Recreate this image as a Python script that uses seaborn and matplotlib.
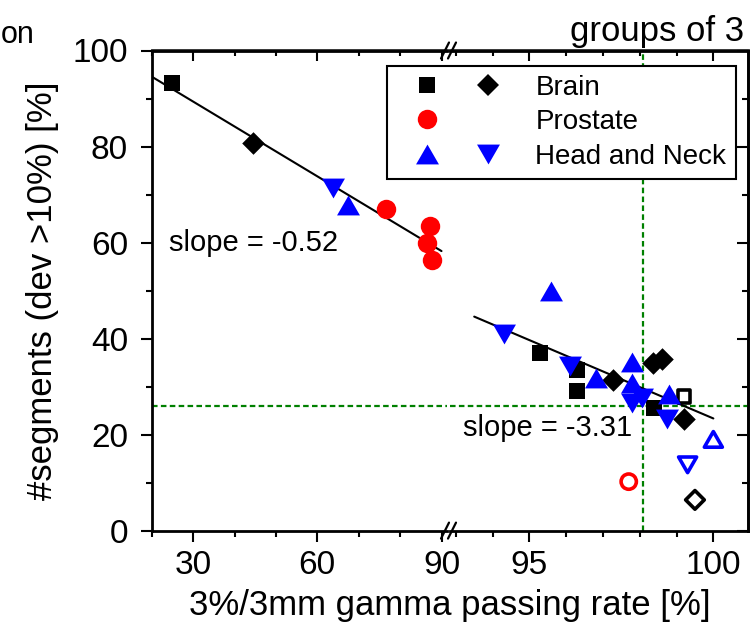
import numpy as np
import pandas as pd
import matplotlib.pyplot as plt
import seaborn as sns
from matplotlib.lines import Line2D
from matplotlib.path import Path
from matplotlib.legend_handler import HandlerTuple
from matplotlib.ticker import MultipleLocator

# 3%/3mm gamma passing rate [%] vs #segments with dev >10% [%]
brain_sq_x = [24.8, 95.3, 96.3, 96.3, 98.4]
brain_sq_y = [93.3, 36.9, 33.4, 29.1, 25.5]
brain_dia_x = [44.5, 97.26, 98.35, 98.6, 99.2]
brain_dia_y = [80.8, 31.3, 34.9, 35.8, 23.2]
prostate_x = [76.6, 87.2, 86.4, 87.6]
prostate_y = [67.0, 63.5, 59.9, 56.4]
hn_up_x = [67.5, 95.6, 96.8, 97.8, 97.8, 98.8]
hn_up_y = [67.9, 49.9, 31.7, 35.2, 30.8, 28.4]
hn_down_x = [63.7, 94.3, 96.1, 97.8, 98.05, 98.75]
hn_down_y = [71.3, 41.0, 34.2, 26.5, 27.7, 23.2]

# open symbols, left out of the fits
out_kind = ["square", "circle", "up", "down", "diamond"]
out_x = [99.2, 97.7, 100.0, 99.3, 99.5]
out_y = [27.9, 10.2, 19.0, 13.7, 6.4]

thresh_x = 98.1
thresh_y = 26.0
fit_ranges = [(20, 90), (93.5, 100)]
slope_labels = ["slope = -0.52", "slope = -3.31"]
legend_labels = ["Brain", "Prostate", "Head and Neck"]

rows = []
for kind, xs, ys in [("square", brain_sq_x, brain_sq_y), ("diamond", brain_dia_x, brain_dia_y),
                     ("circle", prostate_x, prostate_y), ("up", hn_up_x, hn_up_y),
                     ("down", hn_down_x, hn_down_y)]:
    for x, y in zip(xs, ys):
        rows.append({"kind": kind, "x": x, "y": y, "filled": True})
for kind, x, y in zip(out_kind, out_x, out_y):
    rows.append({"kind": kind, "x": x, "y": y, "filled": False})
df = pd.DataFrame(rows)
df["panel"] = np.where(df["x"] < 92, 0, 1)

tri_up = Path([(0, 0.433), (-0.5, -0.433), (0.5, -0.433), (0, 0.433)],
              [Path.MOVETO, Path.LINETO, Path.LINETO, Path.CLOSEPOLY])
tri_down = Path([(0, -0.433), (-0.5, 0.433), (0.5, 0.433), (0, -0.433)],
                [Path.MOVETO, Path.LINETO, Path.LINETO, Path.CLOSEPOLY])
colors = {"square": "black", "diamond": "black", "circle": "#ff0000", "up": "#0000ff", "down": "#0000ff"}
markers = {"square": "s", "diamond": "D", "circle": "o", "up": tri_up, "down": tri_down}
ms_full = {"square": 12, "diamond": 11.5, "circle": 14, "up": 16.5, "down": 16.5}
ms_open = {"square": 9, "diamond": 9.5, "circle": 11, "up": 13, "down": 13}

sns.set_style("ticks")
plt.rcParams["font.family"] = ["Liberation Sans", "DejaVu Sans"]
plt.rcParams.update({"text.color": "black", "axes.labelcolor": "black",
                     "xtick.color": "black", "ytick.color": "black"})

W, H = 753, 636
fig = plt.figure(figsize=(7.53, 6.36), dpi=100)
y0, y1 = 530.6, 50.5
ax_l = fig.add_axes([151.7 / W, 1 - y0 / H, 295.6 / W, (y0 - y1) / H])
ax_r = fig.add_axes([450.3 / W, 1 - y0 / H, 298.0 / W, (y0 - y1) / H])
axes = [ax_l, ax_r]
xlims = [(20, 91.4), (92.85, 100.95)]
xmajor = [[30, 60, 90], [95, 100]]
xminor = [10, 1]

for i, ax in enumerate(axes):
    ax.axhline(thresh_y, color="#008000", lw=1.6, ls=(0, (2.5, 1.5)), zorder=1)
    sub = df[df["panel"] == i]
    # linear fit through the filled symbols of this panel
    fs = sub[sub["filled"]]
    k, b = np.polyfit(fs["x"], fs["y"], 1)
    xr = np.array(fit_ranges[i])
    ax.plot(xr, k * xr + b, color="black", lw=1.5, zorder=2)
    for kind in markers:
        for filled in [True, False]:
            d = sub[(sub["kind"] == kind) & (sub["filled"] == filled)]
            if d.empty:
                continue
            if filled:
                sns.scatterplot(data=d, x="x", y="y", ax=ax, marker=markers[kind],
                                color=colors[kind], s=ms_full[kind] ** 2, linewidth=0,
                                legend=False, zorder=3)
            else:
                sns.scatterplot(data=d, x="x", y="y", ax=ax, marker=markers[kind],
                                facecolor="none", edgecolor=colors[kind], s=ms_open[kind] ** 2,
                                linewidth=2.6, legend=False, zorder=3)
    ax.set_xlim(*xlims[i])
    ax.set_ylim(0, 100)
    ax.set_xticks(xmajor[i])
    ax.xaxis.set_minor_locator(MultipleLocator(xminor[i]))
    ax.yaxis.set_major_locator(MultipleLocator(20))
    ax.yaxis.set_minor_locator(MultipleLocator(10))
    ax.set_xlabel("")
    ax.set_ylabel("")
    ax.tick_params(axis="both", which="major", length=8, width=1.5, labelsize=24, pad=6)
    ax.tick_params(axis="both", which="minor", length=4, width=1.5)
    ax.tick_params(axis="y", pad=9)
    for s in ax.spines.values():
        s.set_linewidth(2.0)
        s.set_color("black")
    sec = ax.secondary_xaxis("top")
    sec.set_xticks(xmajor[i])
    sec.xaxis.set_minor_locator(MultipleLocator(xminor[i]))
    sec.tick_params(which="major", direction="in", length=8, width=1.5, labeltop=False)
    sec.tick_params(which="minor", direction="in", length=4, width=1.5)
    sec.spines["top"].set_linewidth(2.0)

ax_l.spines["right"].set_visible(False)
ax_r.spines["left"].set_visible(False)
ax_r.tick_params(axis="y", which="both", left=False, labelleft=False)
secy = ax_r.secondary_yaxis("right")
secy.yaxis.set_major_locator(MultipleLocator(20))
secy.yaxis.set_minor_locator(MultipleLocator(10))
secy.tick_params(which="major", direction="in", length=8, width=1.5, labelright=False)
secy.tick_params(which="minor", direction="in", length=4, width=1.5)
secy.spines["right"].set_linewidth(2.0)

ax_r.axvline(thresh_x, color="#008000", lw=1.6, ls=(0, (2.5, 1.5)), zorder=1)

ax_l.text(24.2, 59.9, slope_labels[0], fontsize=21, va="center", ha="left")
ax_r.text(93.2, 21.3, slope_labels[1], fontsize=21, va="center", ha="left")

ax_l.set_ylabel("#segments (dev >10%) [%]", fontsize=25)
ax_l.yaxis.set_label_coords(-0.315, 0.5)
fig.supxlabel("3%/3mm gamma passing rate [%]", x=0.598, y=1 - 606 / H, va="center", fontsize=25)

# break marks on the x axis
for py in (y1, y0):
    for cx in (445, 452):
        fig.add_artist(Line2D([(cx - 4) / W, (cx + 4) / W], [1 - (py + 8) / H, 1 - (py - 8) / H],
                              color="black", lw=1.6, transform=fig.transFigure))

# legend: two symbol columns per entry
def handle(kind):
    return Line2D([], [], ls="none", marker=markers[kind], color=colors[kind],
                  markersize=ms_full[kind], markeredgewidth=0)

blank = Line2D([], [], ls="none")
handles = [(handle("square"), handle("diamond")), (handle("circle"), blank), (handle("up"), handle("down"))]
leg = fig.legend(handles, legend_labels, handler_map={tuple: HandlerTuple(ndivide=None, pad=0)},
                 loc="upper left", bbox_to_anchor=(387.3 / W, 1 - 65.7 / H), borderaxespad=0,
                 fancybox=False, edgecolor="black", framealpha=1, fontsize=20, numpoints=1,
                 handlelength=4.4, handletextpad=0.6, borderpad=0.33, labelspacing=0.3)
leg.get_frame().set_linewidth(1.5)

fig.text(744 / W, 1 - 41 / H, "groups of 3", ha="right", va="baseline", fontsize=25)
fig.text(1 / W, 1 - 43 / H, "on", ha="left", va="baseline", fontsize=22)

fig.savefig("out.png", dpi=100)
